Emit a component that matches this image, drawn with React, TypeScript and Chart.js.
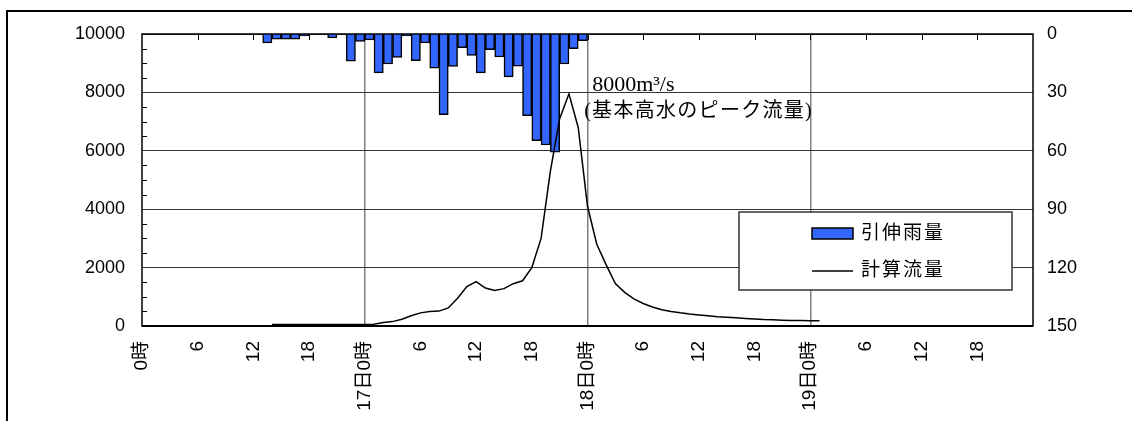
import React, { useEffect, useRef } from "react";
import { Chart, registerables } from "chart.js";

Chart.register(...registerables);

// ---- data ----
const xTickLabels = [
  "0時", "6", "12", "18",
  "17日0時", "6", "12", "18",
  "18日0時", "6", "12", "18",
  "19日0時", "6", "12", "18",
  "",
];
const rainLabel = "引伸雨量";
const flowLabel = "計算流量";
// hourly stretched rainfall (mm), starting at hour 0 (16日0時)
const rainStartHour = 0;
const rainValues = [
  0, 0, 0, 0, 0, 0, 0, 0, 0, 0, 0, 0, 0, 4.6, 2.6, 2.6, 2.6, 1.0, 0, 0, 2.0, 0, 14, 3.8,
  3, 20, 15.4, 12, 1, 13.7, 4.6, 17.5, 41.4, 16.6, 7, 11, 20, 8, 11.8, 22, 16.5, 42, 54.8, 57, 60.7, 15.4, 7.5, 3.4,
];
// hourly computed discharge (m3/s), starting at hour 14
const flowStartHour = 14;
const flowValues = [
  50, 50, 50, 50, 50, 50, 50, 50, 50, 50, 55,
  60, 120, 150, 230, 350, 450, 500, 510, 620, 950, 1350, 1520, 1300, 1220, 1280, 1450, 1550, 2000, 3000, 5300,
  7100, 7950, 6800, 4100, 2800, 2100, 1450, 1150, 930, 770, 650, 560, 500, 450, 410, 380, 350, 320, 300, 280,
  260, 240, 220, 210, 200, 190, 185, 180, 180,
];
const peakLine1 = "8000m³/s";
const peakLine2 = "(基本高水のピーク流量)";

const SANS = '"Liberation Sans", "Noto Sans CJK JP", sans-serif';
const SERIF = '"Liberation Serif", "Noto Sans CJK JP", serif';

const decorPlugin = {
  id: "decor",
  beforeDraw(chart: any) {
    const ctx = chart.ctx;
    ctx.save();
    ctx.fillStyle = "#fff";
    ctx.fillRect(0, 0, chart.width, chart.height);
    ctx.fillStyle = "#000";
    ctx.fillRect(6, 10, chart.width, 2);
    ctx.fillRect(6, 10, 2, chart.height);
    ctx.restore();
  },
  afterDatasetsDraw(chart: any) {
    const ctx = chart.ctx;
    const a = chart.chartArea;
    const xs = chart.scales.x;
    const ys = chart.scales.y;
    ctx.save();
    // minor ticks on left axis
    ctx.strokeStyle = "#000";
    ctx.lineWidth = 1;
    for (let v = 500; v < 10000; v += 500) {
      if (v % 2000 === 0) continue;
      const py = Math.round(ys.getPixelForValue(v)) + 0.5;
      ctx.beginPath();
      ctx.moveTo(a.left, py);
      ctx.lineTo(a.left + 5, py);
      ctx.stroke();
    }
    // top ticks every 6 hours
    for (let h = 6; h < 96; h += 6) {
      const px = Math.round(xs.getPixelForValue(h)) + 0.5;
      ctx.beginPath();
      ctx.moveTo(px, a.top);
      ctx.lineTo(px, a.top + 6);
      ctx.stroke();
    }
    // plot border
    ctx.lineWidth = 1.5;
    ctx.strokeStyle = "#000";
    ctx.strokeRect(a.left, a.top, a.right - a.left, a.bottom - a.top);
    ctx.lineWidth = 2;
    ctx.beginPath();
    ctx.moveTo(a.left, a.bottom);
    ctx.lineTo(a.right, a.bottom);
    ctx.stroke();

    // peak annotation
    const ax = xs.getPixelForValue(48.5);
    const ay = ys.getPixelForValue(8000);
    ctx.fillStyle = "#000";
    ctx.textAlign = "left";
    ctx.textBaseline = "alphabetic";
    ctx.font = "22px " + SERIF;
    ctx.fillText(peakLine1, ax, ay - 1);
    ctx.font = "20px " + SERIF;
    (ctx as any).letterSpacing = "1.3px";
    ctx.fillText(peakLine2, ax - 8, ay + 25);
    (ctx as any).letterSpacing = "0px";

    // legend box
    const lx = a.right - 294;
    const ly = a.top + 178;
    const lw = 273;
    const lh = 78;
    ctx.fillStyle = "#fff";
    ctx.fillRect(lx, ly, lw, lh);
    ctx.strokeStyle = "#333";
    ctx.lineWidth = 1.5;
    ctx.strokeRect(lx, ly, lw, lh);
    const sx = lx + 73;
    // bar swatch
    ctx.fillStyle = "#3366ff";
    ctx.fillRect(sx, ly + 16, 41, 11);
    ctx.strokeStyle = "#000";
    ctx.lineWidth = 1.5;
    ctx.strokeRect(sx, ly + 16, 41, 11);
    // line swatch
    ctx.beginPath();
    ctx.moveTo(sx, ly + 59);
    ctx.lineTo(sx + 41, ly + 59);
    ctx.stroke();
    ctx.fillStyle = "#000";
    ctx.font = "19px " + SANS;
    ctx.textBaseline = "middle";
    (ctx as any).letterSpacing = "2px";
    ctx.fillText(rainLabel, sx + 49, ly + 22);
    ctx.fillText(flowLabel, sx + 49, ly + 59);
    (ctx as any).letterSpacing = "0px";
    ctx.restore();
  },
};

export default function App() {
  const ref = useRef<HTMLCanvasElement | null>(null);
  useEffect(() => {
    if (!ref.current) return;
    const rainData = rainValues.map((v, i) => ({ x: rainStartHour + i + 0.5, y: v > 0 ? v : null }));
    const flowData = flowValues.map((v, i) => ({ x: flowStartHour + i, y: v }));
    const chart = new Chart(ref.current, {
      type: "bar",
      data: {
        datasets: [
          {
            type: "line",
            label: flowLabel,
            data: flowData as any,
            xAxisID: "x",
            yAxisID: "y",
            borderColor: "#000",
            borderWidth: 1.5,
            pointRadius: 0,
            tension: 0,
            fill: false,
            order: 0,
          } as any,
          {
            type: "bar",
            label: rainLabel,
            data: rainData as any,
            xAxisID: "x",
            yAxisID: "y1",
            backgroundColor: "#3366ff",
            borderColor: "#000",
            borderWidth: 1.5,
            barPercentage: 1,
            categoryPercentage: 1,
            order: 1,
          } as any,
        ],
      },
      options: {
        animation: false,
        responsive: true,
        maintainAspectRatio: false,
        layout: { padding: { top: 34, left: 0, right: 0, bottom: 0 } },
        plugins: { legend: { display: false }, tooltip: { enabled: false } },
        scales: {
          x: {
            type: "linear",
            min: 0,
            max: 96,
            offset: false,
            position: "bottom",
            afterFit: (s: any) => {
              s.height = 95;
            },
            border: { display: false },
            grid: {
              offset: false,
              drawTicks: false,
              lineWidth: 1.5,
              color: (c: any) =>
                c.tick && c.tick.value % 24 === 0 && c.tick.value > 0 && c.tick.value < 96
                  ? "#808080"
                  : "rgba(0,0,0,0)",
            },
            ticks: {
              stepSize: 6,
              autoSkip: false,
              minRotation: 90,
              maxRotation: 90,
              padding: 15,
              color: "#000",
              font: { family: SANS, size: 19 },
              callback: (v: any) => xTickLabels[Math.round(Number(v) / 6)] ?? "",
            },
          },
          y: {
            position: "left",
            min: 0,
            max: 10000,
            afterFit: (s: any) => {
              s.width = 142;
            },
            border: { display: false },
            grid: { drawTicks: false, color: "#333", lineWidth: 1 },
            ticks: {
              stepSize: 2000,
              padding: 17,
              color: "#000",
              font: { family: SANS, size: 18 },
              callback: (v: any) => String(v),
            },
          },
          y1: {
            position: "right",
            min: 0,
            max: 150,
            reverse: true,
            afterFit: (s: any) => {
              s.width = 99;
            },
            border: { display: false },
            grid: { display: false, drawTicks: false },
            ticks: {
              stepSize: 30,
              padding: 14,
              color: "#000",
              font: { family: SANS, size: 18 },
              callback: (v: any) => String(v),
            },
          },
        },
      },
      plugins: [decorPlugin],
    });
    return () => chart.destroy();
  }, []);
  return (
    <div style={{ position: "fixed", left: 0, top: 0, width: 1132, height: 421, background: "#fff" }}>
      <canvas ref={ref} />
    </div>
  );
}
